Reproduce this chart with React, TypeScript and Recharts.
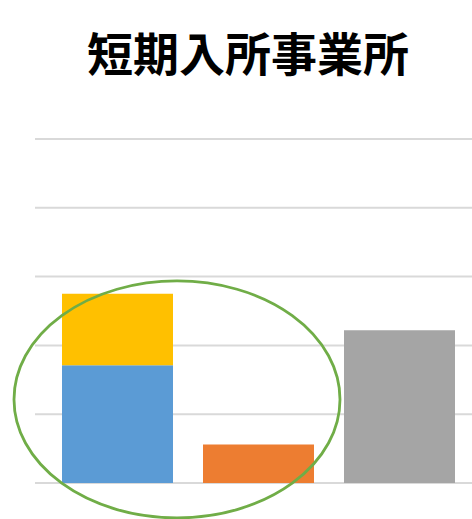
import { BarChart, Bar, XAxis, YAxis, CartesianGrid, ReferenceDot } from "recharts";

const categories = ["A", "B", "C"];
const blueValues = [17.1, 0, 0];
const yellowValues = [10.4, 0, 0];
const orangeValues = [0, 5.6, 0];
const grayValues = [0, 0, 22.2];
const yTicks = [0, 10, 20, 30, 40, 50];

const data = categories.map((name, i) => ({
  name,
  blue: blueValues[i],
  yellow: yellowValues[i],
  orange: orangeValues[i],
  gray: grayValues[i],
}));

const App = () => {
  return (
    <div style={{ position: "absolute", left: 0, top: 0, width: 472, height: 519, background: "#fff" }}>
      <div
        style={{
          position: "absolute",
          left: 0,
          top: 20,
          width: 496,
          textAlign: "center",
          fontFamily: "'Noto Sans CJK JP', sans-serif",
          fontWeight: 700,
          fontSize: 46,
          lineHeight: "62px",
          color: "#000",
        }}
      >
        短期入所事業所
      </div>
      <BarChart
        width={472}
        height={519}
        data={data}
        margin={{ top: 139, right: 0, bottom: 36, left: 35 }}
      >
        <CartesianGrid vertical={false} stroke="#D9D9D9" strokeWidth={2} />
        <XAxis dataKey="name" hide padding={{ left: 12, right: 2 }} />
        <YAxis hide domain={[0, 50]} ticks={yTicks} />
        <Bar dataKey="blue" stackId="a" fill="#5B9BD5" barSize={111} isAnimationActive={false} />
        <Bar dataKey="yellow" stackId="a" fill="#FFC000" barSize={111} isAnimationActive={false} />
        <Bar dataKey="orange" stackId="a" fill="#ED7D31" barSize={111} isAnimationActive={false} />
        <Bar dataKey="gray" stackId="a" fill="#A5A5A5" barSize={111} isAnimationActive={false} />
        <ReferenceDot
          x="A"
          y={12.15}
          ifOverflow="visible"
          shape={(p: any) => (
            <ellipse
              cx={p.cx + 59.5}
              cy={p.cy}
              rx={163}
              ry={118.5}
              fill="none"
              stroke="#70AD47"
              strokeWidth={2.8}
            />
          )}
        />
      </BarChart>
    </div>
  );
};

export default App;
